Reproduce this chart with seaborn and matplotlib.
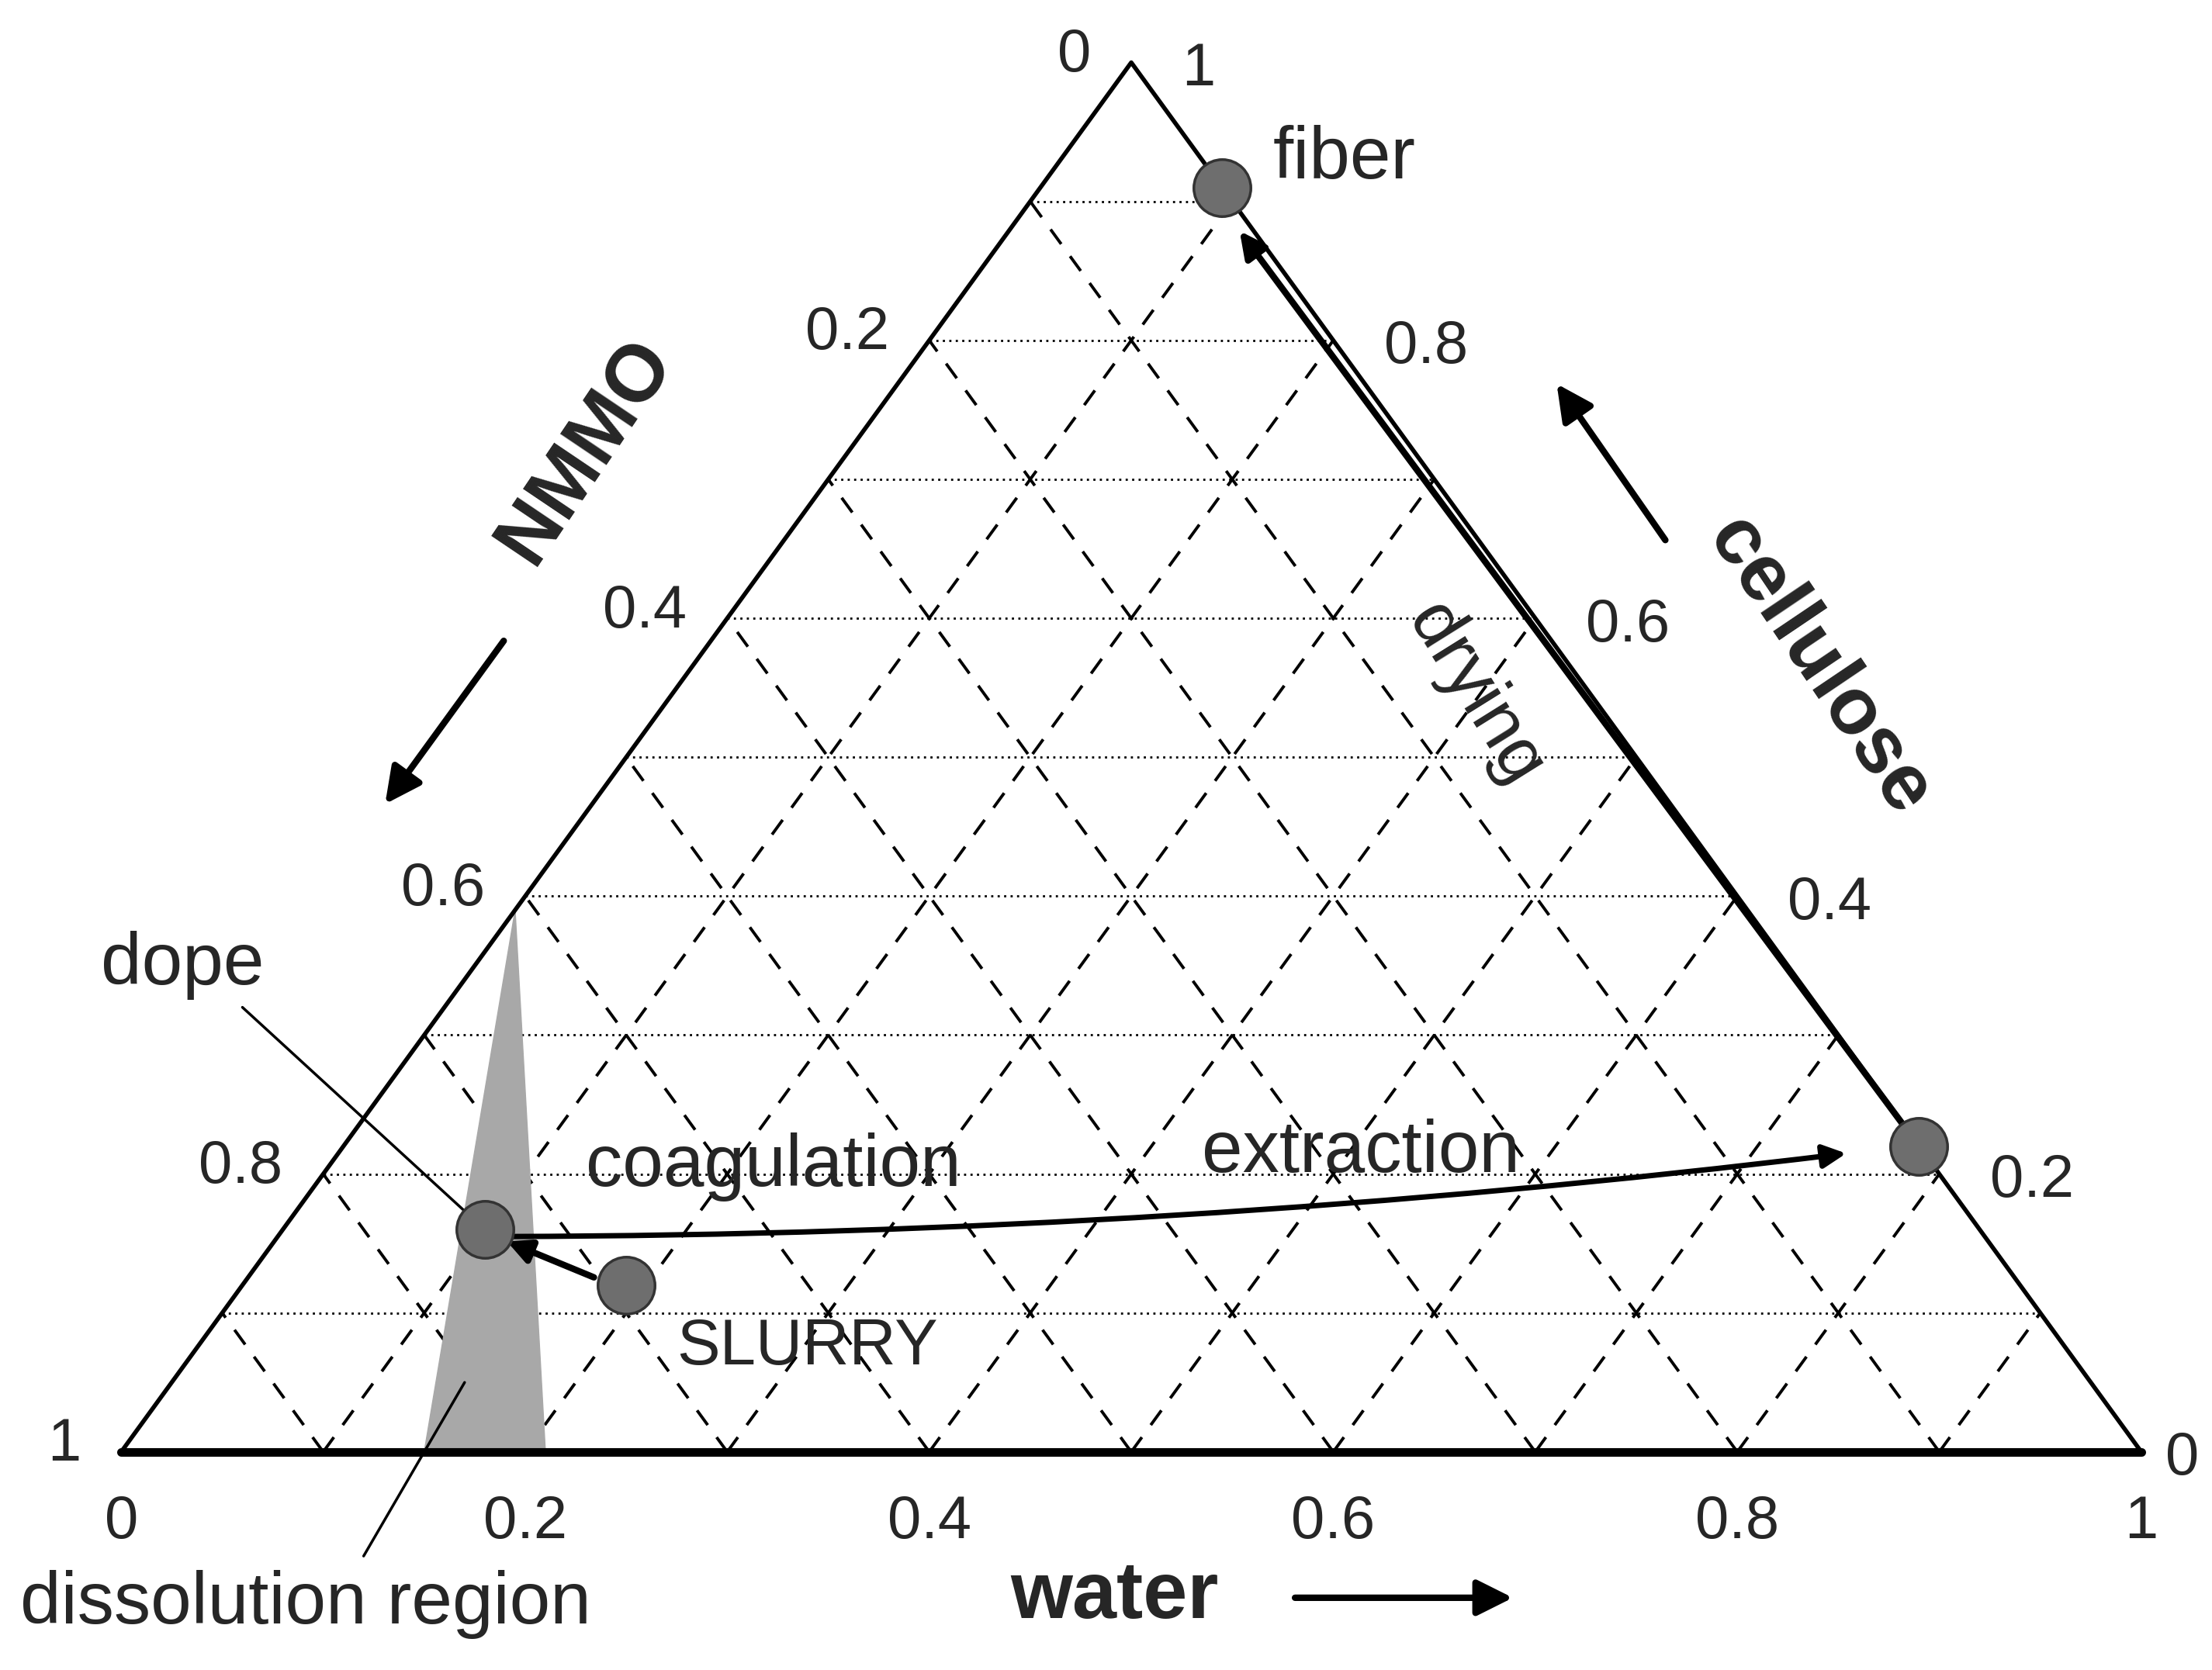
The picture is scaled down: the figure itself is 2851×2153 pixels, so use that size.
import numpy as np
import pandas as pd
import matplotlib
matplotlib.use("Agg")
import matplotlib.pyplot as plt
import seaborn as sns
from matplotlib.patches import FancyArrowPatch

sns.set_style("white")
plt.rcParams['font.family'] = ['Liberation Sans', 'DejaVu Sans']

# data: (water, cellulose) fractions
point_names = ["fiber", "dope", "SLURRY", "extraction"]
point_water = [0.09, 0.10, 0.19, 0.78]
point_cell = [0.91, 0.16, 0.12, 0.22]
tick_vals = [0, 0.2, 0.4, 0.6, 0.8, 1]
tick_labels = ["0", "0.2", "0.4", "0.6", "0.8", "1"]
region_water = [0.15, 0.21, 0.0]
region_cell = [0.0, 0.0, 0.39]

def xy(w, c):
    w = np.asarray(w, float); c = np.asarray(c, float)
    return w + c / 2, c

fig = plt.figure(figsize=(28.51, 21.53), dpi=100)
ax = fig.add_axes([0, 0, 1, 1])
ax.set_xlim(-0.06, 1.035)
ax.set_ylim(-0.157, 1.045)
ax.axis("off")

lw = 4
for k in range(1, 10):
    v = k / 10
    x0, y0 = xy(0, v); x1, y1 = xy(1 - v, v)
    ax.plot([x0, x1], [y0, y1], ls=(0, (1, 2)), color="black", lw=2)
    x0, y0 = xy(v, 0); x1, y1 = xy(v, 1 - v)
    ax.plot([x0, x1], [y0, y1], ls=(0, (6, 5)), color="black", lw=2.8)
    x0, y0 = xy(1 - v, 0); x1, y1 = xy(0, 1 - v)
    ax.plot([x0, x1], [y0, y1], ls=(0, (6, 5)), color="black", lw=2.8)

rx, ry = xy(region_water, region_cell)
ax.fill(rx, ry, color="#a8a8a8", zorder=2)

tx, ty = xy([0, 1, 0, 0], [0, 0, 1, 0])
ax.plot(tx, ty, color="black", lw=lw, zorder=3)
ax.plot([0, 1], [0, 0], color="black", lw=8, zorder=3)

fs_t = 56
for v, lab in zip(tick_vals, tick_labels):
    ax.text(v, -0.03, lab, ha="center", va="top", fontsize=fs_t)
    x, y = xy(0, 1 - v)
    ax.text(x - 0.02, y + 0.005, lab, ha="right", va="center", fontsize=fs_t)
    x, y = xy(1 - v, v)
    off = 0.012 if v == 0 else 0.025
    ax.text(x + off, y - 0.005, lab, ha="left", va="center", fontsize=fs_t)

def arr(p0, p1, rad=0.0, lwid=4, ms=45):
    a = FancyArrowPatch(p0, p1, arrowstyle="-|>", mutation_scale=ms,
                        connectionstyle=f"arc3,rad={rad}", color="black", lw=lwid, zorder=4)
    ax.add_patch(a)

px, py = xy(point_water, point_cell)
arr((px[1] + 0.01, py[1] - 0.005), (px[3] - 0.035, py[3] - 0.005), rad=0.03, lwid=5)
arr((px[2] - 0.015, py[2] + 0.005), (px[1] + 0.01, py[1] - 0.008), lwid=6, ms=45)
arr((px[3], py[3]), (px[0] + 0.008, py[0] - 0.03), lwid=6, ms=50)

df = pd.DataFrame({"x": px, "y": py, "name": point_names})
sns.scatterplot(data=df, x="x", y="y", s=2800, color="#6e6e6e", edgecolor="#333333",
                linewidth=2.5, ax=ax, zorder=5, legend=False)

fs = 68
ax.text(px[0] + 0.025, py[0] + 0.02, "fiber", fontsize=fs, va="center")
ax.text(-0.01, 0.35, "dope", fontsize=fs, va="center")
ax.plot([0.06, px[1]], [0.32, py[1]], color="black", lw=2.5)
ax.text(0.275, 0.075, "SLURRY", fontsize=fs - 8, va="center")
ax.text(0.23, 0.205, "coagulation", fontsize=fs, va="center")
ax.text(0.535, 0.215, "extraction", fontsize=fs, va="center")
ax.text(0.67, 0.545, "drying", fontsize=fs, va="center", ha="center", rotation=-58)
ax.text(-0.05, -0.11, "dissolution region", fontsize=fs, va="center")
ax.plot([0.12, 0.17], [-0.075, 0.05], color="black", lw=2.5)

ax.text(0.44, -0.105, "water", fontsize=74, fontweight="bold", va="center")
arr((0.58, -0.105), (0.69, -0.105), lwid=6, ms=70)
ax.text(0.23, 0.72, "NMMO", fontsize=74, fontweight="bold", va="center", ha="center", rotation=56)
arr((0.19, 0.585), (0.13, 0.465), lwid=6, ms=70)
ax.text(0.84, 0.565, "cellulose", fontsize=74, fontweight="bold", va="center", ha="center", rotation=-56)
arr((0.765, 0.655), (0.71, 0.77), lwid=6, ms=70)

fig.savefig("out.png", dpi=100, facecolor="white")
